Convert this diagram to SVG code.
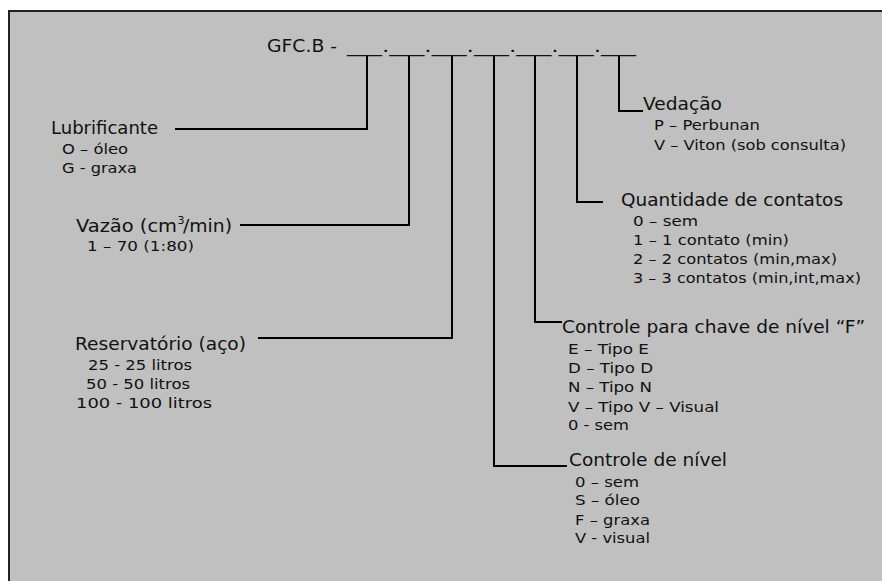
<svg xmlns="http://www.w3.org/2000/svg" width="882" height="581" viewBox="0 0 882 581">
<style>
text{font-family:"DejaVu Sans","Verdana",sans-serif;fill:#111}
.h{font-size:17px}
.s{font-size:14px}
.c{stroke:#000;stroke-width:2;fill:none}
</style>
<rect x="0" y="0" width="882" height="581" fill="#fff"/>
<rect x="9" y="11" width="880" height="580" fill="#c0c0c0" stroke="#222" stroke-width="2"/>
<g id="header"><text class="h" x="267" y="52" textLength="70" lengthAdjust="spacingAndGlyphs">GFC.B -</text>
<text class="h" x="347" y="52" textLength="289" lengthAdjust="spacingAndGlyphs">___.___.___.___.___.___.___</text></g>
<g id="connectors">
<polyline class="c" points="367,56 367,129 175,129"/>
<polyline class="c" points="409,56 409,225 240,225"/>
<polyline class="c" points="452,56 452,338 258,338"/>
<polyline class="c" points="494,56 494,466 567,466"/>
<polyline class="c" points="535,56 535,322 562,322"/>
<polyline class="c" points="577,56 577,202 603,202"/>
<polyline class="c" points="619,56 619,111 643,111"/>
</g>
<g id="lubrificante" lengthAdjust="spacingAndGlyphs"><text class="h" x="51" y="134" textLength="107" lengthAdjust="spacingAndGlyphs">Lubrificante</text>
<text class="s" x="62" y="154" textLength="66" lengthAdjust="spacingAndGlyphs">O – óleo</text><text class="s" x="62" y="173" textLength="75" lengthAdjust="spacingAndGlyphs">G - graxa</text></g>
<g id="vazao"><text class="h" x="76" y="232" textLength="101" lengthAdjust="spacingAndGlyphs">Vazão (cm</text><text x="177.5" y="224" font-size="11">3</text><text class="h" x="183" y="232" textLength="49" lengthAdjust="spacingAndGlyphs">/min)</text>
<text class="s" x="87" y="251" textLength="107" lengthAdjust="spacingAndGlyphs">1 – 70 (1:80)</text></g>
<g id="reservatorio"><text class="h" x="75" y="350" textLength="171" lengthAdjust="spacingAndGlyphs">Reservatório (aço)</text>
<text class="s" x="88" y="370" textLength="104" lengthAdjust="spacingAndGlyphs">25 - 25 litros</text><text class="s" x="86" y="389" textLength="104" lengthAdjust="spacingAndGlyphs">50 - 50 litros</text><text class="s" x="76" y="408" textLength="136" lengthAdjust="spacingAndGlyphs">100 - 100 litros</text></g>
<g id="vedacao"><text class="h" x="643" y="110" textLength="79" lengthAdjust="spacingAndGlyphs">Vedação</text>
<text class="s" x="654" y="130" textLength="106" lengthAdjust="spacingAndGlyphs">P – Perbunan</text><text class="s" x="654" y="150" textLength="192" lengthAdjust="spacingAndGlyphs">V – Viton (sob consulta)</text></g>
<g id="quantidade"><text class="h" x="621" y="206" textLength="222" lengthAdjust="spacingAndGlyphs">Quantidade de contatos</text>
<text class="s" x="633" y="226" textLength="65" lengthAdjust="spacingAndGlyphs">0 – sem</text><text class="s" x="633" y="245" textLength="156" lengthAdjust="spacingAndGlyphs">1 – 1 contato (min)</text><text class="s" x="633" y="264" textLength="204" lengthAdjust="spacingAndGlyphs">2 – 2 contatos (min,max)</text><text class="s" x="633" y="283" textLength="228" lengthAdjust="spacingAndGlyphs">3 – 3 contatos (min,int,max)</text></g>
<g id="chave"><text class="h" x="562" y="333" textLength="303" lengthAdjust="spacingAndGlyphs">Controle para chave de nível “F”</text>
<text class="s" x="568" y="354" textLength="81" lengthAdjust="spacingAndGlyphs">E – Tipo E</text><text class="s" x="568" y="373" textLength="85" lengthAdjust="spacingAndGlyphs">D – Tipo D</text><text class="s" x="568" y="392" textLength="84" lengthAdjust="spacingAndGlyphs">N – Tipo N</text><text class="s" x="568" y="412" textLength="151" lengthAdjust="spacingAndGlyphs">V – Tipo V – Visual</text><text class="s" x="568" y="430" textLength="61" lengthAdjust="spacingAndGlyphs">0 - sem</text></g>
<g id="nivel"><text class="h" x="569" y="466" textLength="158" lengthAdjust="spacingAndGlyphs">Controle de nível</text>
<text class="s" x="575" y="487" textLength="64" lengthAdjust="spacingAndGlyphs">0 – sem</text><text class="s" x="575" y="505" textLength="65" lengthAdjust="spacingAndGlyphs">S – óleo</text><text class="s" x="575" y="525" textLength="75" lengthAdjust="spacingAndGlyphs">F – graxa</text><text class="s" x="575" y="543" textLength="75" lengthAdjust="spacingAndGlyphs">V - visual</text></g>
</svg>
